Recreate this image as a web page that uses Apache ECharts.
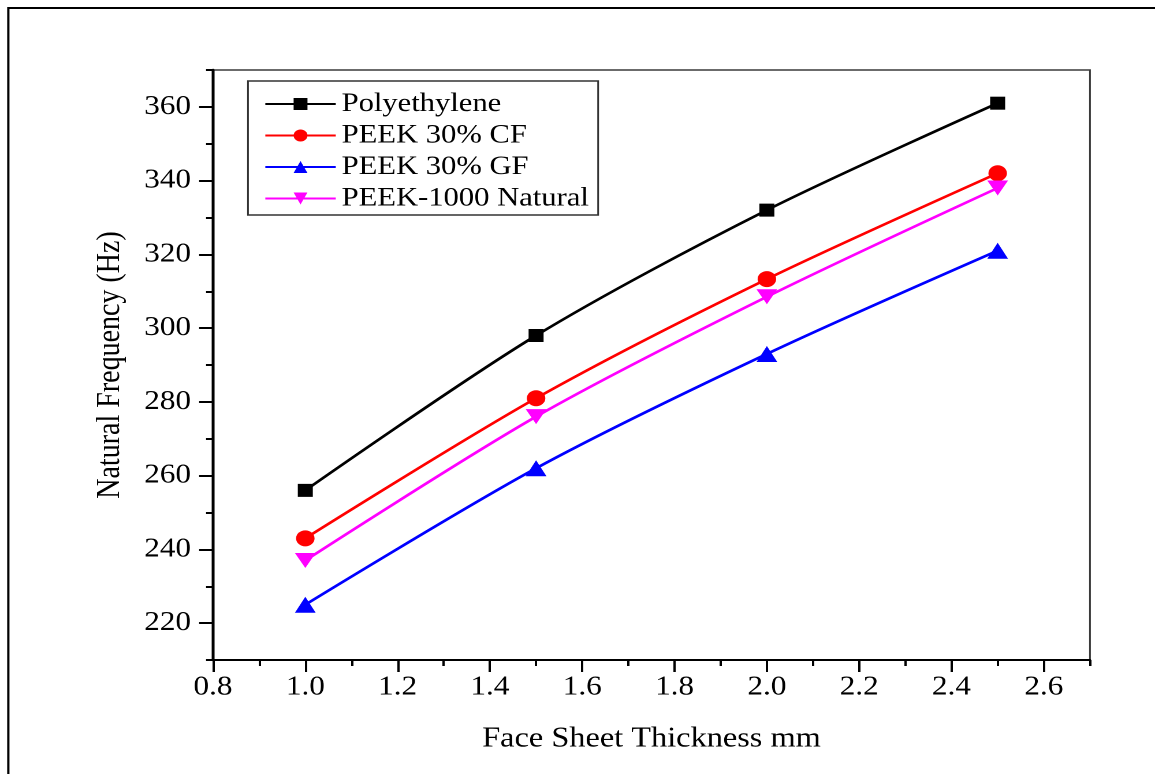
<!DOCTYPE html>
<html>
<head>
<meta charset="utf-8">
<script src="https://cdn.jsdelivr.net/npm/echarts@6/dist/echarts.min.js"></script>
<style>
  html, body { margin: 0; padding: 0; background: #fff; overflow: hidden; width: 1155px; height: 774px; }
  #chart { width: 1000px; height: 774px; transform: scaleX(1.155); transform-origin: 0 0; }
</style>
</head>
<body>
<div id="chart"></div>
<script>
// ---- data ----
const thickness = [1.0, 1.5, 2.0, 2.5];
const seriesNames = ['Polyethylene', 'PEEK 30% CF', 'PEEK 30% GF', 'PEEK-1000 Natural'];
const polyethylene = [256, 298, 332, 361];
const peekCF = [243, 281, 313.3, 342];
const peekGF = [225, 262, 293, 321];
const peek1000 = [237, 276, 308.5, 338];
const xMajorTicks = [0.8, 1.0, 1.2, 1.4, 1.6, 1.8, 2.0, 2.2, 2.4, 2.6];
const xMinorTicks = [0.9, 1.1, 1.3, 1.5, 1.7, 1.9, 2.1, 2.3, 2.5, 2.7];
const yMajorTicks = [220, 240, 260, 280, 300, 320, 340, 360];
const yMinorTicks = [210, 230, 250, 270, 290, 310, 330, 350, 370];

const FONT = '"Liberation Serif", "Times New Roman", serif';
const pairs = arr => thickness.map((x, i) => [x, arr[i]]);

const chart = echarts.init(document.getElementById('chart'), null, { renderer: 'canvas', devicePixelRatio: 2 });

const baseX = { type: 'value', min: 0.8, max: 2.7, gridIndex: 0, position: 'bottom', splitLine: { show: false } };
const baseY = { type: 'value', min: 210, max: 370, gridIndex: 0, position: 'left', splitLine: { show: false } };

chart.setOption({
  animation: false,
  backgroundColor: '#fff',
  textStyle: { fontFamily: FONT, color: '#000' },
  graphic: [{
    type: 'rect', silent: true,
    shape: { x: 7.2, y: 8, width: 1300, height: 1200 },
    style: { fill: 'none', stroke: '#000', lineWidth: 2 }
  }],
  grid: {
    left: 184.4, right: 56.3, top: 70, bottom: 114,
    show: true, borderColor: '#3a3a3a', borderWidth: 1.5, backgroundColor: 'transparent'
  },
  legend: {
    orient: 'vertical',
    left: 214.7, top: 81,
    padding: [9.5, 8, 3, 14],
    borderColor: '#333', borderWidth: 1.5,
    itemWidth: 61, itemHeight: 15, itemGap: 4.5,
    textStyle: { fontFamily: FONT, fontSize: 26.5, color: '#000', lineHeight: 27 },
    data: seriesNames
  },
  xAxis: [
    Object.assign({}, baseX, {
      name: 'Face Sheet Thickness mm', nameLocation: 'middle', nameGap: 65,
      nameTextStyle: { fontFamily: FONT, fontSize: 28, color: '#000' },
      axisLine: { show: true, lineStyle: { color: '#000', width: 2 } },
      axisTick: { show: true, inside: false, length: 12, lineStyle: { color: '#000', width: 2 }, customValues: xMajorTicks },
      axisLabel: { show: true, margin: 14, customValues: xMajorTicks, fontFamily: FONT, fontSize: 27, color: '#000',
        formatter: v => Number(v).toFixed(1) }
    }),
    Object.assign({}, baseX, {
      axisLine: { show: false },
      axisTick: { show: true, inside: false, length: 6, lineStyle: { color: '#000', width: 2 }, customValues: xMinorTicks },
      axisLabel: { show: false }
    })
  ],
  yAxis: [
    Object.assign({}, baseY, {
      name: 'Natural Frequency (Hz)', nameLocation: 'middle', nameGap: 75,
      nameTextStyle: { fontFamily: FONT, fontSize: 28, color: '#000' },
      axisLine: { show: true, lineStyle: { color: '#000', width: 2.5 } },
      axisTick: { show: true, inside: false, length: 12, lineStyle: { color: '#000', width: 2 }, customValues: yMajorTicks },
      axisLabel: { show: true, margin: 19, customValues: yMajorTicks, fontFamily: FONT, fontSize: 27, color: '#000' }
    }),
    Object.assign({}, baseY, {
      axisLine: { show: false },
      axisTick: { show: true, inside: false, length: 6, lineStyle: { color: '#000', width: 2 }, customValues: yMinorTicks },
      axisLabel: { show: false }
    })
  ],
  series: [
    { name: seriesNames[0], type: 'line', data: pairs(polyethylene), smooth: 0.3,
      symbol: 'rect', symbolSize: 13, color: '#000000', lineStyle: { width: 2.6 } },
    { name: seriesNames[1], type: 'line', data: pairs(peekCF), smooth: 0.3,
      symbol: 'circle', symbolSize: 16, color: '#ff0000', lineStyle: { width: 2.6 } },
    { name: seriesNames[2], type: 'line', data: pairs(peekGF), smooth: 0.3,
      symbol: 'triangle', symbolSize: [18, 16], color: '#0000ff', lineStyle: { width: 2.6 } },
    { name: seriesNames[3], type: 'line', data: pairs(peek1000), smooth: 0.3,
      symbol: 'triangle', symbolRotate: 180, symbolSize: [18, 15], color: '#ff00ff', lineStyle: { width: 2.6 } }
  ]
});
</script>
</body>
</html>
